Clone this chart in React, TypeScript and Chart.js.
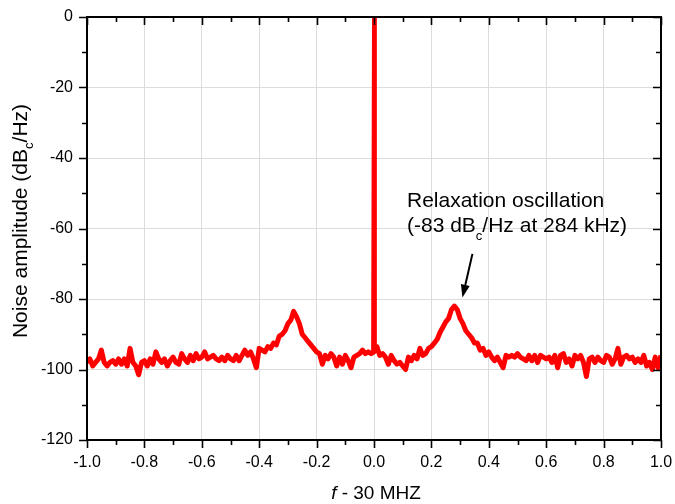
import { useEffect, useRef } from 'react';
import { Chart, registerables } from 'chart.js';

Chart.register(...registerables);

// Frequency offset grid (MHz): -1.00 .. 1.00 in steps of 0.01
const freqStart = -1;
const freqStep = 0.01;

// Noise amplitude (dBc/Hz), one value per 0.01 MHz
const noiseDb = [
  -98, -97, -99, -98, -97, -94.5, -98, -99, -98, -97.5, // -1.00 .. -0.91
  -98.5, -97, -98.5, -97, -99, -94, -98, -99, -101.5, -98, // -0.90 .. -0.81
  -97.5, -99, -97, -98.5, -95, -97, -98, -97, -99, -97.5, // -0.80 .. -0.71
  -96.5, -98, -98.5, -95.5, -97, -98, -96, -97.5, -95.5, -97, // -0.70 .. -0.61
  -96.5, -95, -97, -96.5, -96, -97, -97.5, -96.5, -97.5, -96, // -0.60 .. -0.51
  -97, -97.5, -96, -97.5, -96, -94.5, -96, -95, -97, -99.5, // -0.50 .. -0.41
  -94, -94.5, -95, -93.5, -94, -92.5, -93, -90.5, -90, -89, // -0.40 .. -0.31
  -87, -86, -83.5, -85, -87, -90, -91, -92, -93, -94, // -0.30 .. -0.21
  -95, -95.5, -98.5, -96, -97, -95.5, -96.5, -99, -96.5, -98.5, // -0.20 .. -0.11
  -96, -97.5, -99.5, -96.5, -96, -95.5, -94.5, -95.5, -95, -95.5, // -0.10 .. -0.01
  -95, -93.5, -96, -95.5, -96.5, -98.5, -96, -97.5, -98.5, -98, // 0.00 .. 0.09
  -99, -100, -96.5, -97.5, -96, -97, -94, -96, -95.5, -94, // 0.10 .. 0.19
  -93.5, -92.5, -91.5, -89.5, -88, -86.5, -85.5, -83, -82, -83, // 0.20 .. 0.29
  -85.5, -87, -89, -90, -91, -92.5, -92.5, -94.5, -94, -96, // 0.30 .. 0.39
  -95, -96.5, -97.5, -96.5, -98, -99.5, -96, -96.5, -96, -96.5, // 0.40 .. 0.49
  -95.5, -96.5, -97, -97.5, -96, -97.5, -96, -98, -96, -96.5, // 0.50 .. 0.59
  -97, -96.5, -98, -96, -99.5, -96, -95.5, -98, -97, -99, // 0.60 .. 0.69
  -96, -97, -96, -98, -102, -97, -96.5, -98, -96.5, -97.5, // 0.70 .. 0.79
  -98, -96, -96.5, -98.5, -97, -94, -98.5, -96.5, -96, -97, // 0.80 .. 0.89
  -96.5, -98, -97, -98, -96, -99, -98, -100, -96.5, -99.5, // 0.90 .. 0.99
  -96, // 1.00
];

// Carrier spike at 0 offset
const spikeX = [-0.003, 0, 0.003];
const spikeDb = [-95, 0, -95];

const xTicks = [-1.0, -0.8, -0.6, -0.4, -0.2, 0.0, 0.2, 0.4, 0.6, 0.8, 1.0];
const yTicks = [-120, -100, -80, -60, -40, -20, 0];

// Annotation anchor (data coordinates)
const noteX = 0.115;
const noteLine1Db = -53.8;
const arrowTail = { x: 0.343, y: -67.2 };
const arrowTip = { x: 0.308, y: -79.6 };

const FONT = '"Liberation Sans", Arial, Helvetica, sans-serif';

function drawSubText(
  ctx: CanvasRenderingContext2D,
  parts: { t: string; sub?: boolean; italic?: boolean }[],
  x: number,
  y: number,
  size: number,
  subSize: number,
  subShift: number,
  align: 'left' | 'center'
) {
  const fontFor = (p: { sub?: boolean; italic?: boolean }) =>
    `${p.italic ? 'italic ' : ''}${p.sub ? subSize : size}px ${FONT}`;
  let total = 0;
  const widths = parts.map((p) => {
    ctx.font = fontFor(p);
    const w = ctx.measureText(p.t).width;
    total += w;
    return w;
  });
  let cx = align === 'center' ? x - total / 2 : x;
  ctx.textAlign = 'left';
  ctx.textBaseline = 'alphabetic';
  parts.forEach((p, i) => {
    ctx.font = fontFor(p);
    ctx.fillText(p.t, cx, p.sub ? y + subShift : y);
    cx += widths[i];
  });
}

const decorPlugin = {
  id: 'decor',
  afterDraw(chart: any) {
    const ctx: CanvasRenderingContext2D = chart.ctx;
    const { left, right, top, bottom } = chart.chartArea;
    const xs = chart.scales.x;
    const ys = chart.scales.y;
    ctx.save();
    ctx.strokeStyle = '#000';
    ctx.fillStyle = '#000';
    ctx.lineWidth = 2;
    ctx.strokeRect(left, top, right - left, bottom - top);

    ctx.lineWidth = 1.6;
    ctx.beginPath();
    for (let i = -10; i <= 10; i++) {
      const px = Math.round(xs.getPixelForValue(i / 10)) + 0.5;
      const len = i % 2 === 0 ? 8 : 5;
      ctx.moveTo(px, bottom);
      ctx.lineTo(px, bottom + len);
      ctx.moveTo(px, top);
      ctx.lineTo(px, top + len);
    }
    for (let i = 0; i <= 12; i++) {
      const py = Math.round(ys.getPixelForValue(-10 * i)) + 0.5;
      const len = i % 2 === 0 ? 8 : 5;
      ctx.moveTo(left, py);
      ctx.lineTo(left - len, py);
      ctx.moveTo(right, py);
      ctx.lineTo(right - len, py);
    }
    ctx.stroke();

    // Y title (rotated)
    ctx.save();
    ctx.translate(27, 221);
    ctx.rotate(-Math.PI / 2);
    drawSubText(
      ctx,
      [{ t: 'Noise amplitude (dB' }, { t: 'c', sub: true }, { t: '/Hz)' }],
      0,
      0,
      21,
      13,
      6,
      'center'
    );
    ctx.restore();

    // X title
    drawSubText(
      ctx,
      [{ t: 'f', italic: true }, { t: ' - 30 MHZ' }],
      376,
      499,
      19,
      13,
      0,
      'center'
    );

    // Annotation
    const nx = xs.getPixelForValue(noteX);
    const ny = ys.getPixelForValue(noteLine1Db);
    ctx.font = `21px ${FONT}`;
    ctx.textAlign = 'left';
    ctx.textBaseline = 'alphabetic';
    ctx.fillText('Relaxation oscillation', nx, ny);
    drawSubText(
      ctx,
      [{ t: '(-83 dB' }, { t: 'c', sub: true }, { t: '/Hz at 284 kHz)' }],
      nx,
      ny + 25,
      21,
      13,
      8,
      'left'
    );

    // Arrow
    const tx = xs.getPixelForValue(arrowTail.x);
    const ty = ys.getPixelForValue(arrowTail.y);
    const hx = xs.getPixelForValue(arrowTip.x);
    const hy = ys.getPixelForValue(arrowTip.y);
    const ang = Math.atan2(hy - ty, hx - tx);
    const headLen = 13;
    const headHalf = 4.5;
    const bx = hx - headLen * Math.cos(ang);
    const by = hy - headLen * Math.sin(ang);
    ctx.lineWidth = 2;
    ctx.beginPath();
    ctx.moveTo(tx, ty);
    ctx.lineTo(bx, by);
    ctx.stroke();
    ctx.beginPath();
    ctx.moveTo(hx, hy);
    ctx.lineTo(bx + headHalf * Math.sin(ang), by - headHalf * Math.cos(ang));
    ctx.lineTo(bx - headHalf * Math.sin(ang), by + headHalf * Math.cos(ang));
    ctx.closePath();
    ctx.fill();

    ctx.restore();
  },
};

export default function App() {
  const ref = useRef<HTMLCanvasElement>(null);
  useEffect(() => {
    document.body.style.margin = '0';
    const noisePoints = noiseDb.map((v, i) => ({ x: freqStart + i * freqStep, y: v }));
    const spikePoints = spikeX.map((x, i) => ({ x, y: spikeDb[i] }));
    const chart = new Chart(ref.current!, {
      type: 'line',
      data: {
        datasets: [
          {
            data: noisePoints,
            borderColor: '#ff0000',
            borderWidth: 5,
            pointRadius: 0,
            tension: 0,
            borderJoinStyle: 'round',
          },
          {
            data: spikePoints,
            borderColor: '#ff0000',
            borderWidth: 4,
            pointRadius: 0,
            tension: 0,
          },
        ],
      },
      options: {
        responsive: false,
        animation: false,
        events: [],
        layout: { padding: { top: 17, right: 14, left: 0, bottom: 0 } },
        plugins: { legend: { display: false }, tooltip: { enabled: false } },
        scales: {
          x: {
            type: 'linear',
            min: -1,
            max: 1,
            afterBuildTicks: (s: any) => {
              s.ticks = xTicks.map((v) => ({ value: v }));
            },
            afterFit: (s: any) => {
              s.height = 64;
              s.paddingLeft = 0;
              s.paddingRight = 0;
            },
            ticks: {
              color: '#000',
              font: { family: FONT, size: 16 },
              padding: 13,
              maxRotation: 0,
              autoSkip: false,
              callback: (v: any) => (Math.abs(Number(v)) < 1e-9 ? '0.0' : Number(v).toFixed(1)),
            },
            grid: { color: '#dcdcdc', lineWidth: 1, drawTicks: false },
            border: { display: false },
          },
          y: {
            type: 'linear',
            min: -120,
            max: 0,
            afterBuildTicks: (s: any) => {
              s.ticks = yTicks.map((v) => ({ value: v }));
            },
            afterFit: (s: any) => {
              s.width = 87;
              s.paddingTop = 0;
              s.paddingBottom = 0;
            },
            ticks: {
              color: '#000',
              font: { family: FONT, size: 16 },
              padding: 14,
              callback: (v: any) => String(v),
            },
            grid: { color: '#dcdcdc', lineWidth: 1, drawTicks: false },
            border: { display: false },
          },
        },
      },
      plugins: [decorPlugin],
    } as any);
    return () => chart.destroy();
  }, []);
  return (
    <div style={{ width: 675, height: 504, position: 'relative' }}>
      <canvas ref={ref} width={675} height={504} style={{ display: 'block' }} />
    </div>
  );
}
